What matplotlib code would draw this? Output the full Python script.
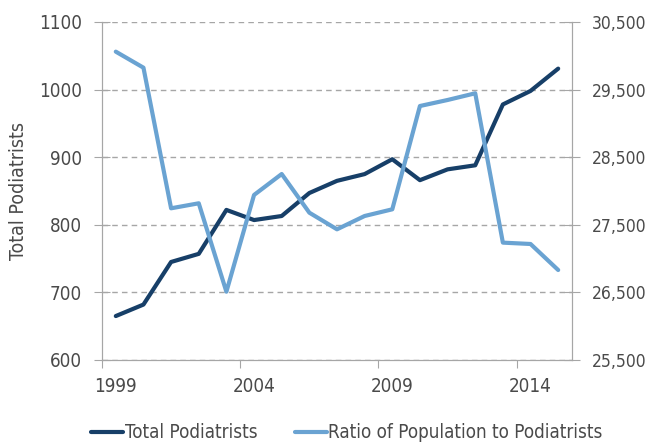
import matplotlib
matplotlib.use("Agg")
import matplotlib.pyplot as plt
from matplotlib.ticker import FixedLocator, FuncFormatter

years = list(range(1999, 2016))
total_podiatrists = [665, 682, 745, 757, 822, 807, 813, 847, 865, 875,
                     897, 866, 882, 888, 978, 998, 1031]
pop_ratio = [30061, 29824, 27744, 27818, 26510, 27941, 28251, 27679, 27433, 27630,
             27729, 29257, 29346, 29445, 27236, 27216, 26831]
year_labels = [1999, 2004, 2009, 2014]

plt.rcParams['font.family'] = ['DejaVu Sans']
plt.rcParams['font.stretch'] = 'condensed'

dark = '#173f68'
light = '#6aa3d2'
text_c = '#4a4a4a'
grid_c = '#a6a6a6'
fs = 13.5

fig = plt.figure(figsize=(6.52, 4.44), dpi=100)
ax = fig.add_axes([0.1564, 0.1892, 0.7209, 0.7613])
ax2 = ax.twinx()

l1, = ax.plot(years, total_podiatrists, color=dark, lw=3, solid_capstyle='round',
              label='Total Podiatrists', zorder=3)
l2, = ax2.plot(years, pop_ratio, color=light, lw=3, solid_capstyle='round',
               label='Ratio of Population to Podiatrists', zorder=3)

ax.set_xlim(1998.5, 2015.5)
ax.set_ylim(600, 1100)
ax2.set_ylim(25500, 30500)
ax.set_yticks(range(600, 1101, 100))
ax2.set_yticks(range(25500, 30501, 1000))
ax2.yaxis.set_major_formatter(FuncFormatter(lambda v, p: f'{int(v):,}'))

# ticks between categories, labels centred on categories
ax.xaxis.set_major_locator(FixedLocator([y - 0.5 for y in year_labels]))
ax.xaxis.set_minor_locator(FixedLocator(year_labels))
ax.xaxis.set_major_formatter(FuncFormatter(lambda v, p: ''))
ax.xaxis.set_minor_formatter(FuncFormatter(lambda v, p: str(int(round(v)))))
ax.tick_params(axis='x', which='minor', length=0, pad=12, labelsize=fs, labelcolor=text_c)
ax.tick_params(axis='x', which='major', length=6, color=grid_c)

ax.tick_params(axis='y', length=11, direction='inout', color=grid_c, labelsize=fs,
               labelcolor=text_c, pad=9)
ax2.tick_params(axis='y', length=12, direction='inout', color=grid_c, labelsize=12.5,
                labelcolor=text_c, pad=8)
for a in (ax, ax2):
    for s in a.spines.values():
        s.set_color(grid_c)
    a.spines['top'].set_visible(False)

ax.grid(axis='y', color=grid_c, linestyle=(0, (4, 3)), lw=1)
ax.set_axisbelow(True)

ax.set_ylabel('Total Podiatrists', fontsize=14, color=text_c)
ax.yaxis.set_label_coords(-0.158, 0.5)

fig.legend(handles=[l1, l2], loc='center', bbox_to_anchor=(0.532, 0.025), ncol=2,
           frameon=False, fontsize=13.5, labelcolor=text_c, handlelength=1.7,
           handletextpad=0.1, columnspacing=2.0)

fig.savefig('out.png', dpi=100)
